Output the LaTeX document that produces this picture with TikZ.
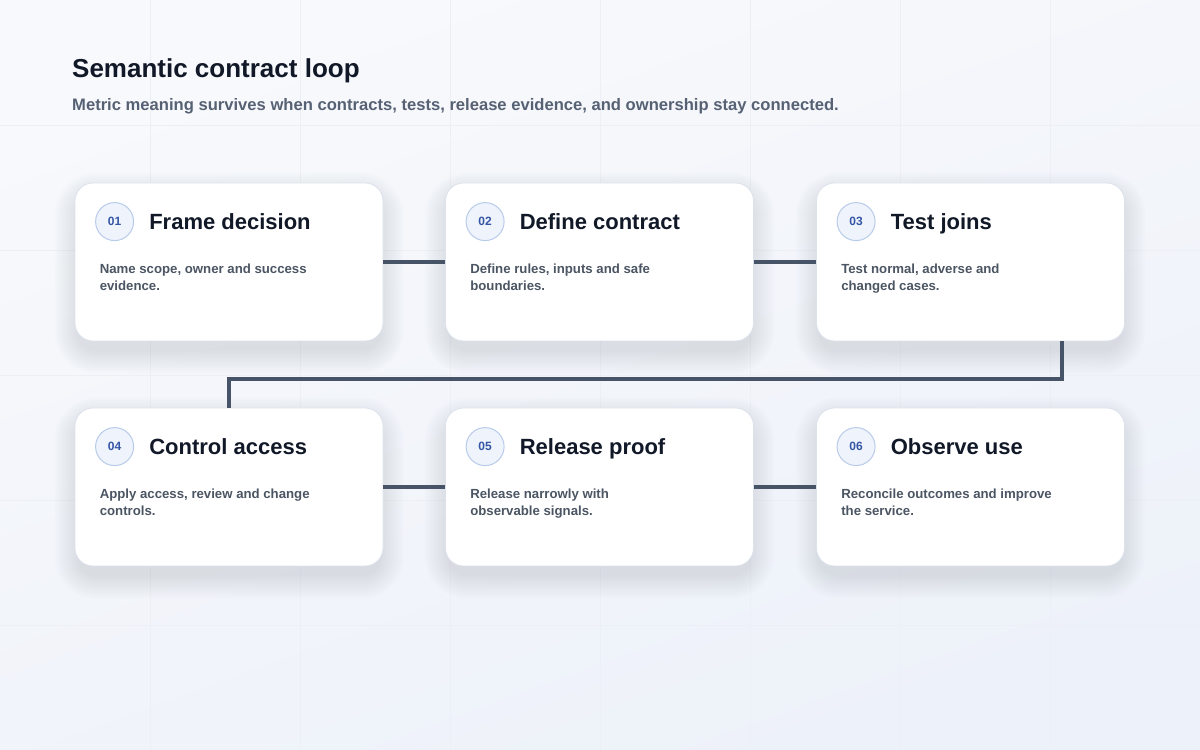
\documentclass[tikz,border=0pt]{standalone}
\usepackage{fontspec}
\setmainfont{Liberation Sans}
\usetikzlibrary{positioning}
\pgfdeclarelayer{backdrop}
\pgfdeclarelayer{shadowlayer}
\pgfsetlayers{backdrop,shadowlayer,main}
\newcommand{\pagewidth}{1200pt}
\newcommand{\pageheight}{750pt}
\newcommand{\cardw}{308pt}
\newcommand{\cardh}{158pt}
\definecolor{pagebgtop}{HTML}{F8F9FC}
\definecolor{pagebgbottom}{HTML}{EDF1F9}
\definecolor{gridline}{HTML}{ECEFF5}
\definecolor{cardedge}{HTML}{DCE2EC}
\definecolor{titlecolor}{HTML}{111827}
\definecolor{subcolor}{HTML}{566173}
\definecolor{bodycolor}{HTML}{4B5563}
\definecolor{badgefill}{HTML}{EEF3FC}
\definecolor{badgeedge}{HTML}{B9CBEA}
\definecolor{badgetext}{HTML}{3556A6}
\definecolor{linkcolor}{HTML}{475467}
\definecolor{shadowcolor}{HTML}{8A95AE}

\tikzset{
  card/.style={draw=cardedge, line width=0.8pt, fill=white, rounded corners=18pt,
    minimum width=\cardw, minimum height=\cardh, inner sep=0pt},
  badge/.style={circle, draw=badgeedge, line width=1pt, fill=badgefill,
    minimum size=38pt, inner sep=0pt, text=badgetext,
    font=\bfseries\fontsize{12}{14}\selectfont},
  cardtitle/.style={anchor=base west, inner sep=0pt, text=titlecolor,
    font=\bfseries\fontsize{22}{26}\selectfont},
  cardbody/.style={anchor=north west, align=left, inner sep=0pt, text=bodycolor,
    font=\bfseries\fontsize{13.2}{17}\selectfont},
  link/.style={draw=linkcolor, line width=3.8pt},
  softshadow/.style={fill=shadowcolor, opacity=0.02},
}

\begin{document}
\begin{tikzpicture}
  \useasboundingbox (0,0) rectangle (\pagewidth, \pageheight);
  \begin{pgfonlayer}{backdrop}
    \shade[top color=pagebgtop, bottom color=pagebgbottom, shading angle=20]
      (0,0) rectangle (\pagewidth, \pageheight);
    % faint grid
    \foreach \gx in {150,300,...,1050}
      \draw[gridline, line width=0.6pt] (\gx pt, 0) -- (\gx pt, \pageheight);
    \foreach \gy in {125,250,...,625}
      \draw[gridline, line width=0.6pt] (0, \gy pt) -- (\pagewidth, \gy pt);
  \end{pgfonlayer}

  % === HEADER ===
  \node[anchor=west, inner sep=0pt, text=titlecolor, font=\bfseries\fontsize{26}{30}\selectfont]
    (title) at (72pt, 679pt) {Semantic contract loop};
  \node[anchor=west, inner sep=0pt, text=subcolor, font=\bfseries\fontsize{16.6}{19}\selectfont]
    (subtitle) at (72pt, 644pt) {Metric meaning survives when contracts, tests, release evidence, and ownership stay connected.};

  % === CARDS, TOP ROW ===
  \node[card] (c1) at (229pt, 488pt) {};
  \node[badge] (b1) at ([shift={(40pt,-39pt)}]c1.north west) {01};
  \node[cardtitle] (t1) at ([shift={(15pt,-8pt)}]b1.east) {Frame decision};
  \node[cardbody] (d1) at ([shift={(25pt,-81.5pt)}]c1.north west) {Name scope, owner and success\\evidence.};

  \node[card] (c2) at (599.5pt, 488pt) {};
  \node[badge] (b2) at ([shift={(40pt,-39pt)}]c2.north west) {02};
  \node[cardtitle] (t2) at ([shift={(15pt,-8pt)}]b2.east) {Define contract};
  \node[cardbody] (d2) at ([shift={(25pt,-81.5pt)}]c2.north west) {Define rules, inputs and safe\\boundaries.};

  \node[card] (c3) at (970.5pt, 488pt) {};
  \node[badge] (b3) at ([shift={(40pt,-39pt)}]c3.north west) {03};
  \node[cardtitle] (t3) at ([shift={(15pt,-8pt)}]b3.east) {Test joins};
  \node[cardbody] (d3) at ([shift={(25pt,-81.5pt)}]c3.north west) {Test normal, adverse and\\changed cases.};

  % === CARDS, BOTTOM ROW ===
  \node[card] (c4) at (229pt, 263pt) {};
  \node[badge] (b4) at ([shift={(40pt,-39pt)}]c4.north west) {04};
  \node[cardtitle] (t4) at ([shift={(15pt,-8pt)}]b4.east) {Control access};
  \node[cardbody] (d4) at ([shift={(25pt,-81.5pt)}]c4.north west) {Apply access, review and change\\controls.};

  \node[card] (c5) at (599.5pt, 263pt) {};
  \node[badge] (b5) at ([shift={(40pt,-39pt)}]c5.north west) {05};
  \node[cardtitle] (t5) at ([shift={(15pt,-8pt)}]b5.east) {Release proof};
  \node[cardbody] (d5) at ([shift={(25pt,-81.5pt)}]c5.north west) {Release narrowly with\\observable signals.};

  \node[card] (c6) at (970.5pt, 263pt) {};
  \node[badge] (b6) at ([shift={(40pt,-39pt)}]c6.north west) {06};
  \node[cardtitle] (t6) at ([shift={(15pt,-8pt)}]b6.east) {Observe use};
  \node[cardbody] (d6) at ([shift={(25pt,-81.5pt)}]c6.north west) {Reconcile outcomes and improve\\the service.};

  % soft shadows under the cards
  \begin{pgfonlayer}{shadowlayer}
    \foreach \c in {c1,c2,c3,c4,c5,c6}
      \foreach \s in {2,4,...,24}
        \fill[softshadow, rounded corners=18pt+\s pt]
          ([shift={(-\s pt+4pt,-\s pt-8pt)}]\c.south west)
          rectangle ([shift={(\s pt-4pt,\s pt-14pt)}]\c.north east);
  \end{pgfonlayer}

  % === LINKS ===
  \draw[link] (c1.east) -- (c2.west);
  \draw[link] (c2.east) -- (c3.west);
  \coordinate (bend) at (1062pt, 371pt);
  \draw[link] (bend |- c3.south) -- (bend) -| (c4.north);
  \draw[link] (c4.east) -- (c5.west);
  \draw[link] (c5.east) -- (c6.west);
\end{tikzpicture}
\end{document}
